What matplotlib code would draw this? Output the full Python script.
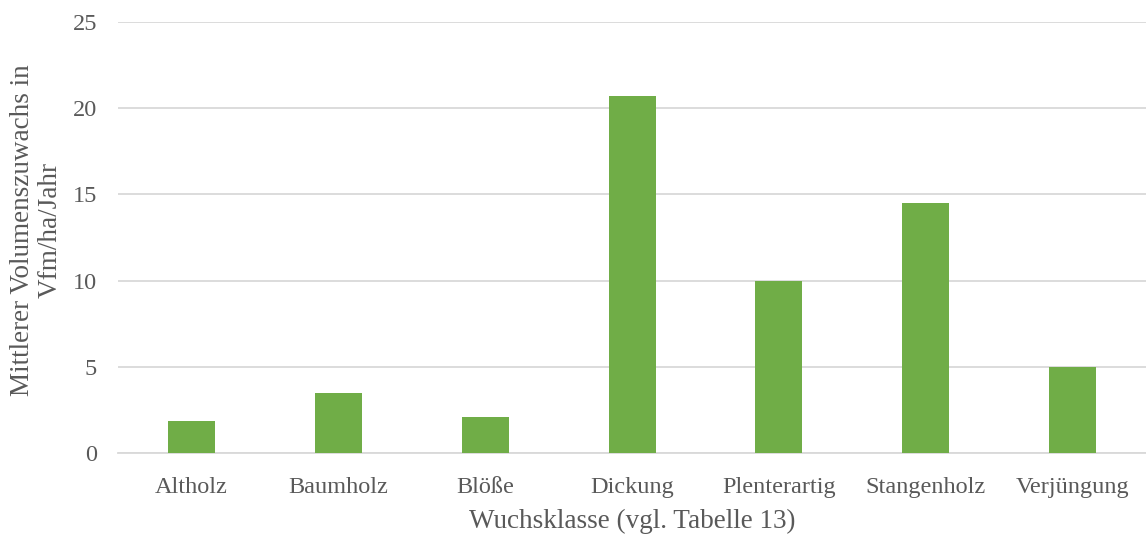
import matplotlib.pyplot as plt

# Wuchsklassen und mittlerer Volumenzuwachs (Vfm/ha/Jahr)
categories = ['Altholz', 'Baumholz', 'Blöße', 'Dickung', 'Plenterartig',
              'Stangenholz', 'Verjüngung']
values = [1.9, 3.5, 2.1, 20.7, 10.0, 14.5, 5.0]
yticks = [0, 5, 10, 15, 20, 25]

TEXT = '#595959'
plt.rcParams['font.family'] = ['Liberation Serif', 'DejaVu Serif']

fig = plt.figure(figsize=(11.46, 5.34), dpi=100)
ax = fig.add_axes([0.103, 0.151, 0.897, 0.808])

x = range(len(categories))
ax.bar(x, values, width=0.32, color='#70AD47', zorder=3)

ax.set_xlim(-0.5, len(categories) - 0.5)
ax.set_ylim(0, 25)
ax.set_yticks(yticks)
ax.set_xticks(list(x))
ax.set_xticklabels(categories)
ax.grid(axis='y', color='#D9D9D9', linewidth=1.3, zorder=0)
ax.tick_params(axis='both', length=0, labelsize=17.5, colors=TEXT)
ax.tick_params(axis='y', pad=15)
ax.tick_params(axis='x', pad=17)
for s in ['top', 'right', 'left']:
    ax.spines[s].set_visible(False)
ax.spines['bottom'].set_color('#D9D9D9')
ax.spines['bottom'].set_linewidth(1.3)

ax.set_xlabel('Wuchsklasse (vgl. Tabelle 13)', fontsize=19.5, color=TEXT, labelpad=8)
ax.set_ylabel('Mittlerer Volumenszuwachs in\nVfm/ha/Jahr', fontsize=19.5, color=TEXT,
              linespacing=1.15)
ax.yaxis.set_label_coords(-0.054, 0.518)

fig.savefig('out.png', dpi=100)
